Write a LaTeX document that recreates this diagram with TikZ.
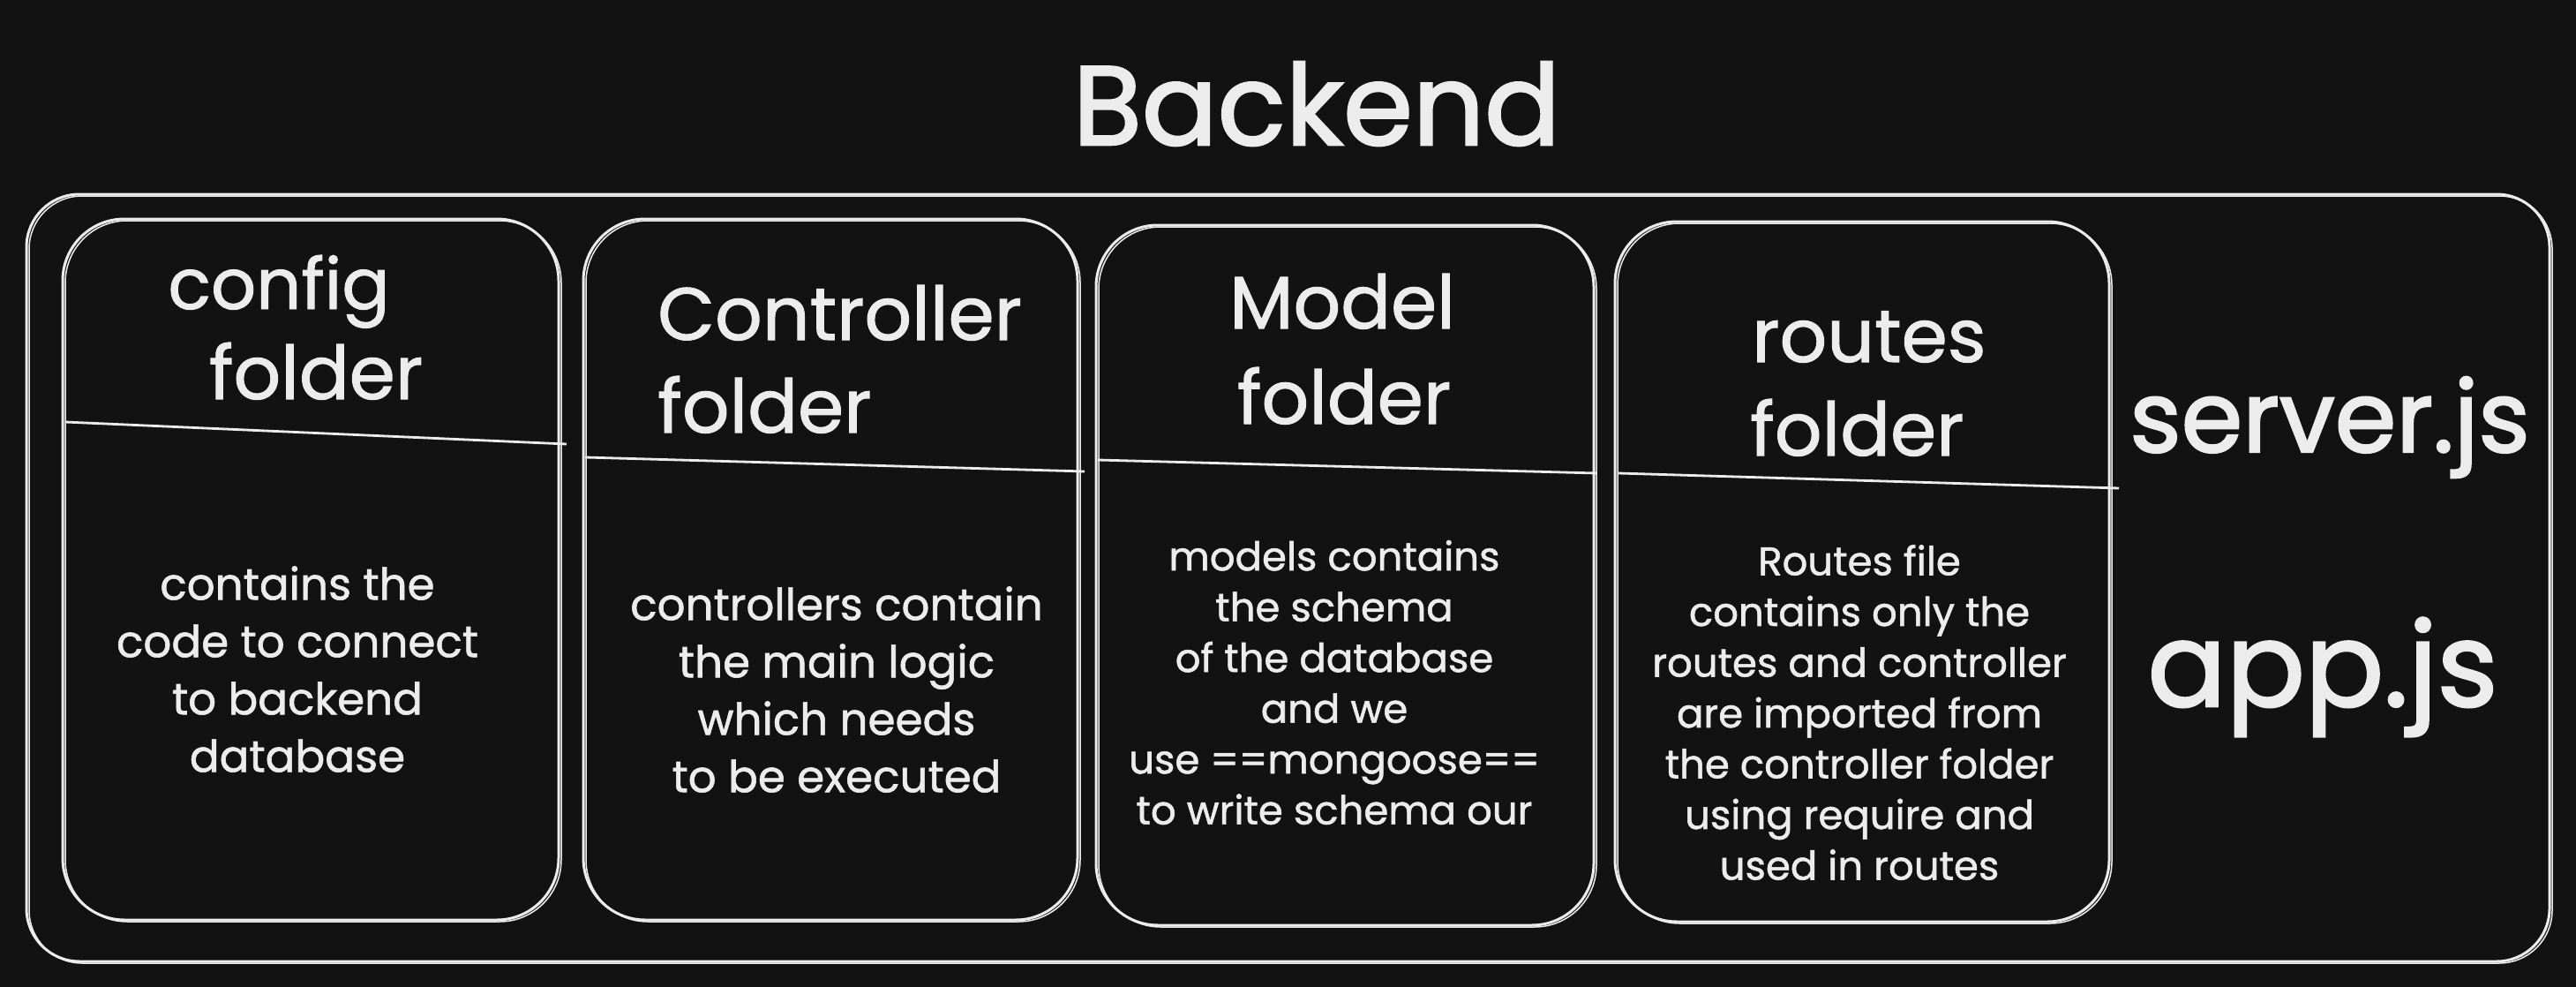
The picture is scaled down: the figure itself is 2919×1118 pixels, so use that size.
\documentclass[tikz,border=0pt]{standalone}
\usepackage{fontspec}
\setmainfont{Poppins}
\newfontfamily\hand[FakeBold=1.2]{Poppins}
\newfontfamily\handbig[FakeBold=2]{Poppins}
\definecolor{bgc}{HTML}{121212}
\definecolor{ink}{HTML}{ECECEC}
\tikzset{
  sk/.style={draw=ink, line width=3pt},
  skb/.style={sk, postaction={draw=ink, line width=1.5pt, transform canvas={shift={(3pt,-2pt)}}}},
  folderbox/.style={skb, rounded corners=70pt, minimum width=562pt, minimum height=794pt, inner sep=0pt},
  outerbox/.style={skb, rounded corners=60pt, inner sep=0pt},
  divider/.style={draw=ink, line width=2.8pt},
  lbl/.style={text=ink, inner sep=0pt},
  ttl/.style={lbl, font=\hand\fontsize{84}{100}\selectfont},
  bodyA/.style={lbl, align=center, font=\hand\fontsize{50}{65}\selectfont},
  bodyB/.style={lbl, align=center, font=\hand\fontsize{45}{57.5}\selectfont},
}
\begin{document}
\begin{tikzpicture}[x=1pt, y=-1pt]
\fill[bgc] (0,0) rectangle (2919,1118);
\useasboundingbox (0,0) rectangle (2919,1118);

\node[lbl, font=\handbig\fontsize{127}{150}\selectfont, anchor=base] (title) at (1492,164) {Backend};

\node[outerbox, minimum width=2859pt, minimum height=869pt] (outer) at (1459.5,654.5) {};

\node[folderbox, minimum width=562pt] (b1) at (352,645) {};
\node[folderbox, minimum width=560pt] (b2) at (941,645) {};
\node[folderbox, minimum width=564pt, minimum height=793pt] (b3) at (1524,651.5) {};
\node[folderbox, minimum width=560pt, minimum height=793pt] (b4) at (2110,647.5) {};

% dividers
\coordinate (d1a) at (74,478);   \coordinate (d1b) at (642,503);
\coordinate (d2a) at (663,518);  \coordinate (d2b) at (1229,534);
\coordinate (d3a) at (1244,521); \coordinate (d3b) at (1809,536);
\coordinate (d4a) at (1834,536); \coordinate (d4b) at (2401,553);
\draw[divider] (d1a) -- (d1b);
\draw[divider] (d2a) -- (d2b);
\draw[divider] (d3a) -- (d3b);
\draw[divider] (d4a) -- (d4b);

% titles
\node[ttl, font=\hand\fontsize{80}{100}\selectfont, anchor=base] (t1a) at (316,350) {config};
\node[ttl, anchor=base] (t1b) at (358,452) {folder};
\node[ttl, anchor=base west] (t2a) at (745,385) {Controller};
\node[ttl, anchor=base west] (t2b) at (745,490) {folder};
\node[ttl, anchor=base] (t3a) at (1521,372) {Model};
\node[ttl, anchor=base] (t3b) at (1523,480) {folder};
\node[ttl, anchor=base west] (t4a) at (1985,410) {routes};
\node[ttl, anchor=base west] (t4b) at (1983,516) {folder};

% bodies
\node[bodyA] (x1) at (337,758) {contains the\\code to connect\\to backend\\database};
\node[bodyA] (x2) at (948,781) {controllers contain\\the main logic\\which needs\\to be executed};
\node[bodyB] (x3) at (1512,773) {models contains\\the schema\\of the database\\and we\\use ==mongoose==\\to write schema our};
\node[bodyB] (x4) at (2107,807) {Routes file\\contains only the\\routes and controller\\are imported from\\the controller folder\\using require and\\used in routes};

% files
\node[lbl, font=\handbig\fontsize{112}{130}\selectfont, anchor=base] (srv) at (2640,512) {server.js};
\node[lbl, font=\handbig\fontsize{132}{150}\selectfont, anchor=base] (app) at (2632,800) {app.js};
\end{tikzpicture}
\end{document}
